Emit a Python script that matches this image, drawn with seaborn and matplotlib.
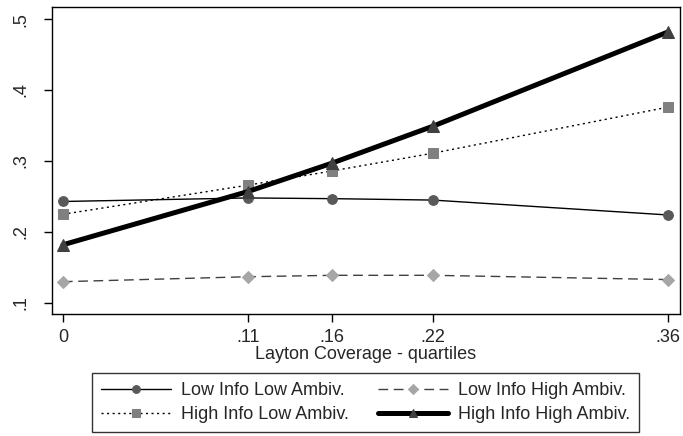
import pandas as pd
import seaborn as sns
import matplotlib.pyplot as plt

# 数据：按四分位的覆盖率
coverage = [0, 0.11, 0.16, 0.22, 0.36]
xtick_labels = ['0', '.11', '.16', '.22', '.36']
ytick_vals = [0.1, 0.2, 0.3, 0.4, 0.5]
ytick_labels = ['.1', '.2', '.3', '.4', '.5']

low_info_low_ambiv = [0.243, 0.248, 0.247, 0.245, 0.224]
low_info_high_ambiv = [0.130, 0.137, 0.139, 0.139, 0.133]
high_info_low_ambiv = [0.225, 0.266, 0.286, 0.311, 0.376]
high_info_high_ambiv = [0.182, 0.257, 0.297, 0.349, 0.482]

sns.set_style('white')
plt.rcParams['font.family'] = ['Liberation Sans', 'DejaVu Sans']

fig = plt.figure(figsize=(6.83, 4.36), dpi=100)
ax = fig.add_axes([52 / 683, 1 - 314 / 436, 628 / 683, 307 / 436])

# 四条线的样式（Stata 风格）
series = [
    ('Low Info Low Ambiv.', low_info_low_ambiv, dict(color='black', lw=1.0, ls='-', marker='o', ms=7,
                                                    markerfacecolor='#595959', markeredgecolor='#595959')),
    ('High Info Low Ambiv.', high_info_low_ambiv, dict(color='black', lw=1.0, ls=(0, (1.5, 2.5)), marker='s', ms=6.5,
                                                      markerfacecolor='#808080', markeredgecolor='#808080')),
    ('Low Info High Ambiv.', low_info_high_ambiv, dict(color='#404040', lw=1.0, ls=(0, (7, 4)), marker='D', ms=6.5,
                                                      markerfacecolor='#a6a6a6', markeredgecolor='#a6a6a6')),
    ('High Info High Ambiv.', high_info_high_ambiv, dict(color='black', lw=3.6, ls='-', marker='^', ms=8,
                                                        markerfacecolor='#404040', markeredgecolor='#404040')),
]

for name, vals, style in series:
    df = pd.DataFrame({'x': coverage, 'y': vals})
    sns.lineplot(data=df, x='x', y='y', ax=ax, label=name, **style)

ax.set_xlim(-0.0065, 0.367)
ax.set_ylim(0.0845, 0.517)
ax.set_xticks(coverage)
ax.set_xticklabels(xtick_labels)
ax.set_yticks(ytick_vals)
ax.set_yticklabels(ytick_labels, rotation=90, va='center', ha='center')
ax.tick_params(axis='both', direction='out', length=5.5, width=1, color='black',
               labelsize=13, left=True, bottom=True)
ax.tick_params(axis='x', pad=5)
ax.tick_params(axis='y', pad=17)
ax.set_xlabel('Layton Coverage - quartiles', fontsize=13, labelpad=0)
ax.set_ylabel('')
for sp in ax.spines.values():
    sp.set_color('black')
    sp.set_linewidth(1.0)

ax.get_legend().remove()
handles, labels = ax.get_legend_handles_labels()
leg = fig.legend(handles, labels, loc='upper center', bbox_to_anchor=(365.5 / 683, 1 - 373 / 436),
                 borderaxespad=0, ncol=2, frameon=True, fancybox=False, edgecolor='black', fontsize=13,
                 handlelength=3.9, handletextpad=0.55, columnspacing=1.6, borderpad=0.5,
                 labelspacing=0.4, markerscale=0.8)
leg.get_frame().set_linewidth(1.0)

fig.savefig('out.png', dpi=100)
